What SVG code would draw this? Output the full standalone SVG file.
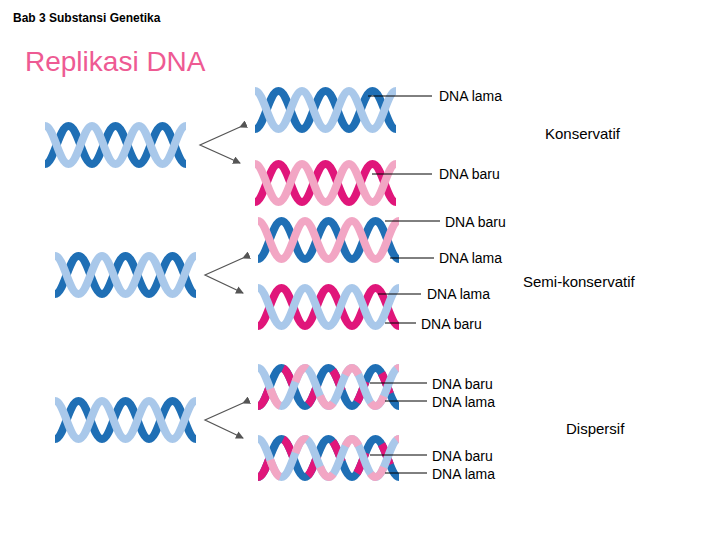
<svg xmlns="http://www.w3.org/2000/svg" xmlns:xlink="http://www.w3.org/1999/xlink" width="720" height="540" viewBox="0 0 720 540">
<style>
text{font-family:"Liberation Sans",Arial,sans-serif;font-size:14px;fill:#000}
.s{fill:none;stroke-width:8;stroke-linecap:butt}
.ld{stroke:#000;stroke-width:1}
.ar{stroke:#555;stroke-width:1.2;fill:none}
</style>
<defs>
<path id="s" d="M0,-19 C9,-19 14,19 23.5,19 C33,19 38,-19 47,-19 C56,-19 61,19 70.5,19 C80,19 85,-19 94,-19 C103,-19 108,19 117.5,19 C127,19 132,-19 141,-19"/>
<path id="t" d="M0,19 C9,19 14,-19 23.5,-19 C33,-19 38,19 47,19 C56,19 61,-19 70.5,-19 C80,-19 85,19 94,19 C103,19 108,-19 117.5,-19 C127,-19 132,19 141,19"/>
<g id="hb"><use xlink:href="#t" class="s" stroke="#1f6fb5"/><use xlink:href="#s" class="s" stroke="#a9c8ea"/></g>
<g id="hp"><use xlink:href="#t" class="s" stroke="#e0167a"/><use xlink:href="#s" class="s" stroke="#f2a6c4"/></g>
<g id="hs1"><use xlink:href="#t" class="s" stroke="#1f6fb5"/><use xlink:href="#s" class="s" stroke="#f2a6c4"/></g>
<g id="hs2"><use xlink:href="#t" class="s" stroke="#e0167a"/><use xlink:href="#s" class="s" stroke="#a9c8ea"/></g>
<g id="hd"><use xlink:href="#t" class="s" stroke="#1f6fb5"/><use xlink:href="#t" class="s" stroke="#e0167a" stroke-dasharray="22 26"/><use xlink:href="#s" class="s" stroke="#a9c8ea"/><use xlink:href="#s" class="s" stroke="#f2a6c4" stroke-dasharray="20 30" stroke-dashoffset="-25"/></g>
<marker id="m" markerWidth="8" markerHeight="8" refX="7" refY="4" orient="auto" markerUnits="userSpaceOnUse"><path d="M0,0 L8,4 L0,8 z" fill="#555"/></marker>
</defs>
<text x="13" y="22" style="font-size:12px;font-weight:bold">Bab 3 Substansi Genetika</text>
<text x="25" y="71" style="font-size:28px;fill:#ee5a93">Replikasi DNA</text>
<g id="left1"><use xlink:href="#hb" transform="translate(45,145)"/></g>
<g id="left2"><use xlink:href="#hb" transform="translate(55,275)"/></g>
<g id="left3"><use xlink:href="#hb" transform="translate(55,420)"/></g>
<g id="r1"><use xlink:href="#hb" transform="translate(255,110)"/></g>
<g id="r2"><use xlink:href="#hp" transform="translate(255,183)"/></g>
<g id="r3"><use xlink:href="#hs1" transform="translate(258,240)"/></g>
<g id="r4"><use xlink:href="#hs2" transform="translate(258,307)"/></g>
<g id="r5"><use xlink:href="#hd" transform="translate(258,387)"/></g>
<g id="r6"><use xlink:href="#hd" transform="translate(258,458)"/></g>
<g id="connectors">
<path class="ar" d="M240,127 L200,145 L240,163" marker-start="url(#m)" marker-end="url(#m)"/>
<path class="ar" d="M243,258 L205,275 L243,293" marker-start="url(#m)" marker-end="url(#m)"/>
<path class="ar" d="M243,403 L205,420 L243,438" marker-start="url(#m)" marker-end="url(#m)"/>
<line class="ld" x1="368" y1="96" x2="432" y2="96"/>
<line class="ld" x1="372" y1="174" x2="432" y2="174"/>
<line class="ld" x1="385" y1="221" x2="440" y2="221"/>
<line class="ld" x1="390" y1="258" x2="434" y2="258"/>
<line class="ld" x1="378" y1="294" x2="421" y2="294"/>
<line class="ld" x1="385" y1="323" x2="416" y2="323"/>
<line class="ld" x1="370" y1="383" x2="427" y2="383"/>
<line class="ld" x1="385" y1="401" x2="427" y2="401"/>
<line class="ld" x1="370" y1="455" x2="427" y2="455"/>
<line class="ld" x1="385" y1="473" x2="427" y2="473"/>
</g>
<text x="439" y="101">DNA lama</text>
<text x="545" y="139" style="font-size:15px">Konservatif</text>
<text x="439" y="179">DNA baru</text>
<text x="445" y="227">DNA baru</text>
<text x="439" y="263">DNA lama</text>
<text x="523" y="287" style="font-size:15px">Semi-konservatif</text>
<text x="427" y="299">DNA lama</text>
<text x="421" y="329">DNA baru</text>
<text x="432" y="389">DNA baru</text>
<text x="432" y="407">DNA lama</text>
<text x="566" y="434" style="font-size:15px">Dispersif</text>
<text x="432" y="461">DNA baru</text>
<text x="432" y="479">DNA lama</text>
</svg>
